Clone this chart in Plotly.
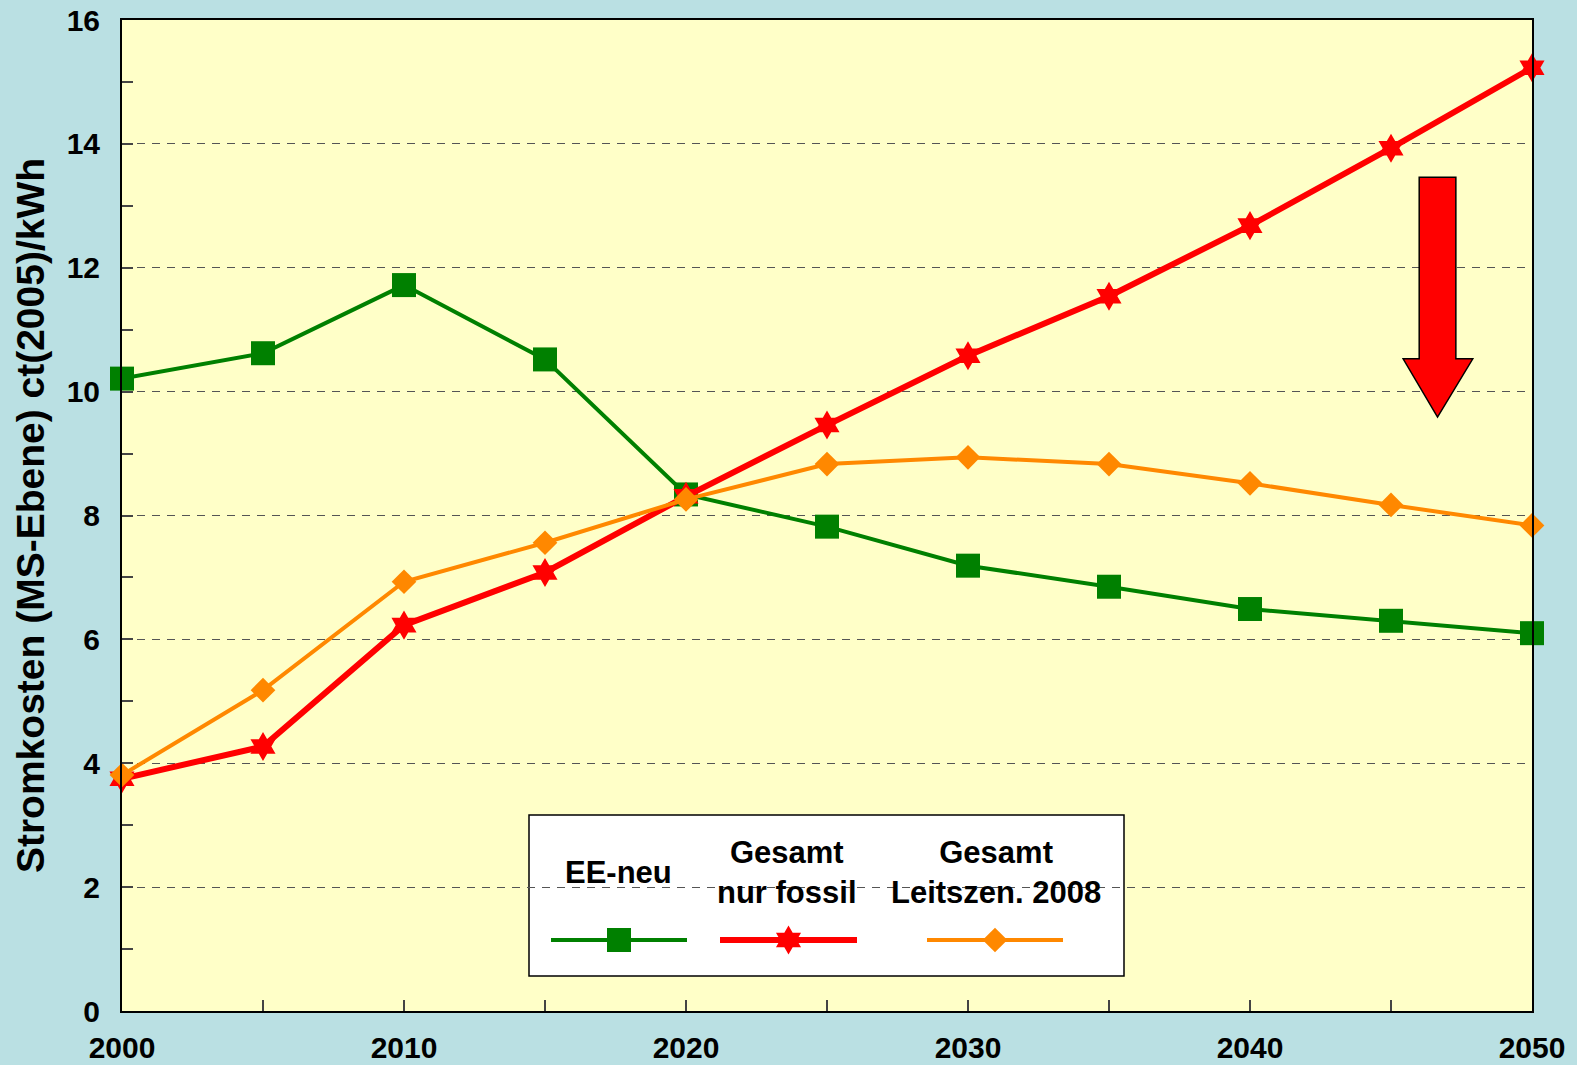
import plotly.graph_objects as go

years = [2000, 2005, 2010, 2015, 2020, 2025, 2030, 2035, 2040, 2045, 2050]
ee_neu = [10.21, 10.62, 11.72, 10.52, 8.34, 7.82, 7.19, 6.85, 6.49, 6.30, 6.10]
gesamt_fossil = [3.75, 4.27, 6.23, 7.08, 8.31, 9.46, 10.58, 11.54, 12.68, 13.93, 15.23]
gesamt_leitszen = [3.81, 5.18, 6.93, 7.56, 8.26, 8.83, 8.94, 8.83, 8.52, 8.17, 7.84]

series_names = ["EE-neu", "Gesamt<br>nur fossil", "Gesamt<br>Leitszen. 2008"]
colors = ["#008000", "#FF0000", "#FF8800"]
symbols = ["square", "hexagram", "diamond"]
marker_sizes = [24, 22, 19]
line_widths = [4, 6, 4]

FONT = "Liberation Sans, Arial, sans-serif"

# plot area in pixels (for paper conversions of decorative legend)
L, T, R, B = 122, 20, 1532, 1011
def px(x):
    return (x - L) / (R - L)
def py(y):
    return (B - y) / (B - T)

fig = go.Figure()

for vals, name, c, s, ms, lw in zip([ee_neu, gesamt_fossil, gesamt_leitszen],
                                      series_names, colors, symbols, marker_sizes, line_widths):
    fig.add_trace(go.Scatter(x=years, y=vals, mode="lines+markers", name=name,
                             line=dict(color=c, width=lw),
                             marker=dict(symbol=s, size=ms, color=c, line=dict(width=0)),
                             cliponaxis=False, showlegend=False))

# custom legend (decorative)
leg_line_x = [(551, 687), (720, 857), (927, 1063)]
leg_line_y = 940
for (x0, x1), c, s, ms, lw in zip(leg_line_x, colors, symbols, marker_sizes, line_widths):
    fig.add_trace(go.Scatter(x=[px(x0), px(x1)], y=[py(leg_line_y)] * 2, mode="lines",
                             line=dict(color=c, width=lw), xaxis="x2", yaxis="y2",
                             showlegend=False, hoverinfo="skip"))
    fig.add_trace(go.Scatter(x=[px((x0 + x1) / 2)], y=[py(leg_line_y)], mode="markers",
                             marker=dict(symbol=s, size=ms, color=c, line=dict(width=0)),
                             xaxis="x2", yaxis="y2", showlegend=False, hoverinfo="skip"))

shapes = [
    dict(type="rect", xref="paper", yref="paper", x0=px(529), x1=px(1124), y0=py(976), y1=py(815),
         fillcolor="white", line=dict(color="black", width=1.5), layer="below"),
    # red arrow
    dict(type="path", xref="x", yref="y",
         path="M 2046.0 13.46 L 2047.3 13.46 L 2047.3 10.53 L 2047.9 10.53 L 2046.65 9.59 "
              "L 2045.43 10.53 L 2046.0 10.53 Z",
         fillcolor="#FF0000", line=dict(color="black", width=1.5), layer="above"),
]

annotations = []
leg_text_x = [618, 787, 996]
for name, x in zip(series_names, leg_text_x):
    yy = 872
    annotations.append(dict(xref="paper", yref="paper", x=px(x), y=py(yy), text="<b>%s</b>" % name,
                            showarrow=False, xanchor="center", yanchor="middle",
                            font=dict(family=FONT, size=31, color="black"),
                            align="center"))

fig.update_layout(
    width=1577, height=1065,
    autosize=False,
    margin=dict(l=L, r=1577 - R, t=T, b=1065 - B, pad=0, autoexpand=False),
    paper_bgcolor="#BAE0E3",
    plot_bgcolor="#FFFFC8",
    font=dict(family=FONT, color="black"),
    shapes=shapes,
    annotations=annotations,
    xaxis=dict(range=[2000, 2050], dtick=10, tick0=2000, showgrid=False, zeroline=False,
               automargin=False,
               ticks="inside", ticklen=11, tickcolor="#444", tickwidth=1.5,
               minor=dict(dtick=5, ticks="inside", ticklen=11, tickcolor="#444", tickwidth=1.5, showgrid=False),
               showline=True, linecolor="black", linewidth=2, mirror=True,
               tickfont=dict(family=FONT, size=30, color="black", weight="bold"),
               ticklabelstandoff=9),
    yaxis=dict(range=[0, 16], dtick=2, showgrid=True, gridcolor="#555555", griddash="8px,7px",
               gridwidth=1, zeroline=False, automargin=False,
               ticks="inside", ticklen=11, tickcolor="#444", tickwidth=1.5,
               minor=dict(dtick=1, ticks="inside", ticklen=11, tickcolor="#444", tickwidth=1.5, showgrid=False),
               showline=True, linecolor="black", linewidth=2, mirror=True,
               tickfont=dict(family=FONT, size=30, color="black", weight="bold"),
               ticklabelstandoff=14,
               title=dict(text="<b>Stromkosten (MS-Ebene) ct(2005)/kWh</b>",
                          font=dict(family=FONT, size=39, color="black"), standoff=10)),
    xaxis2=dict(range=[0, 1], overlaying="x", visible=False, fixedrange=True),
    yaxis2=dict(range=[0, 1], overlaying="y", visible=False, fixedrange=True),
)

fig.write_html("out.html", config={"displayModeBar": False},
               post_script="document.body.style.margin='0';document.body.style.overflow='hidden';")
